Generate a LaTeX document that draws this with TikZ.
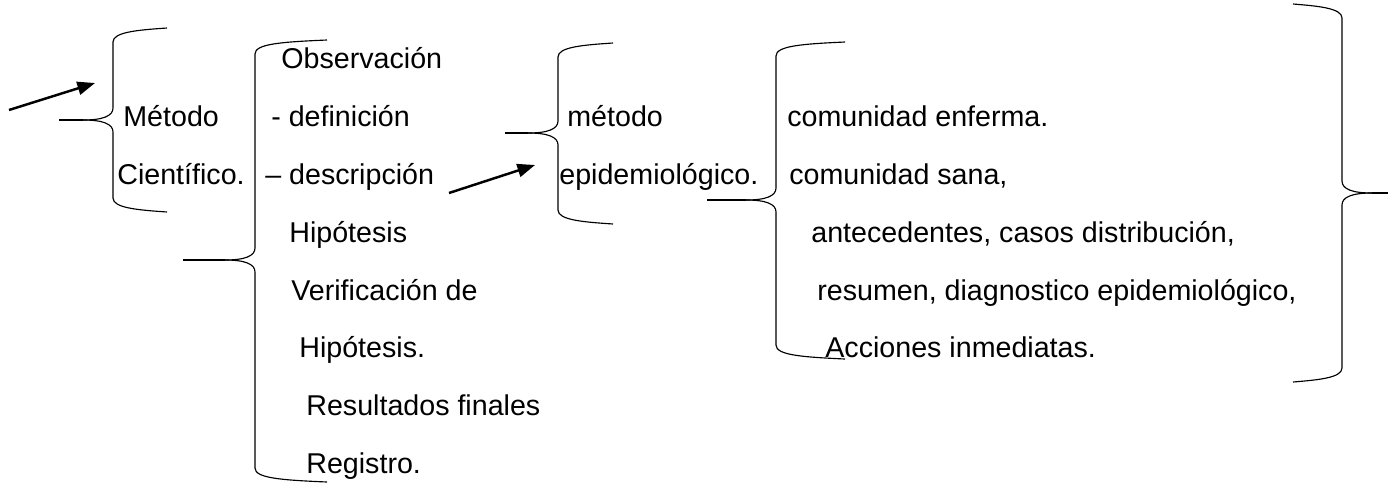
\documentclass[tikz,border=0pt]{standalone}
\usepackage{fontspec}
\setmainfont{Liberation Sans}
\usetikzlibrary{arrows.meta}

% left curly brace: #1 right end, #2 stem, #3 tail end, #4 top, #5 tip, #6 bottom
\newcommand{\leftcurly}[6]{%
  \draw[brace] (#1,#4) .. controls (#2+25,#4+2) and (#2,#4+4) .. (#2,#4+14)
    -- (#2,#5-12) .. controls (#2,#5-4) and (#2-10,#5) .. (#2-30,#5);
  \draw[brace] (#2-30,#5) .. controls (#2-10,#5) and (#2,#5+4) .. (#2,#5+12)
    -- (#2,#6-14) .. controls (#2,#6-4) and (#2+25,#6-2) .. (#1,#6);
  \draw[tail] (#3,#5) -- (#2-30,#5);
}

\begin{document}
\begin{tikzpicture}[x=0.02cm,y=-0.02cm,
  txt/.style={anchor=base west,inner sep=0pt,font=\fontsize{16.3pt}{19pt}\selectfont},
  brace/.style={line width=0.65pt},
  tail/.style={line width=1.1pt},
  arr/.style={line width=1.4pt,-{Triangle[length=10pt,width=7.5pt]}}]
\useasboundingbox (0,0) rectangle (1395,491);

% Braces
\leftcurly{167}{113}{59}{28}{120}{212}
\leftcurly{327}{255}{183}{40}{260}{482}
\leftcurly{613}{558}{505}{43}{133}{224}
\leftcurly{845}{776}{707}{42}{200}{359}
% closing brace on the right
\draw[brace] (1293,4) .. controls (1317,6) and (1342,8) .. (1342,18)
  -- (1342,181) .. controls (1342,189) and (1352,193) .. (1372,193);
\draw[brace] (1372,193) .. controls (1352,193) and (1342,197) .. (1342,205)
  -- (1342,368) .. controls (1342,378) and (1317,380) .. (1293,382);
\draw[tail] (1372,193) -- (1388,193);

% Metodo cientifico
\node[txt] (met) at (123,126) {Método};
\node[txt] (cien) at (117,184) {Científico.};

% Steps
\node[txt] (obs) at (281,68) {Observación};
\node[txt] (def) at (271,126) {- definición};
\node[txt] (desc) at (265,184) {– descripción};
\node[txt] (hip) at (289,242) {Hipótesis};
\node[txt] (ver) at (291,300) {Verificación de};
\node[txt] (hipb) at (299,357) {Hipótesis.};
\node[txt] (res) at (306,415) {Resultados finales};
\node[txt] (reg) at (306,473) {Registro.};

% Metodo epidemiologico
\node[txt] (mepi) at (567,126) {método};
\node[txt] (epi) at (559,184) {epidemiológico.};

\node[txt] (enf) at (787,126) {comunidad enferma.};
\node[txt] (sana) at (789,184) {comunidad sana,};
\node[txt] (ante) at (811,242) {antecedentes, casos distribución,};
\node[txt] (resu) at (817,300) {resumen, diagnostico epidemiológico,};
\node[txt] (acc) at (825,357) {Acciones inmediatas.};

% Arrows
\coordinate (a1) at (9,110);
\coordinate (b1) at (95,83);
\coordinate (a2) at (449,193);
\coordinate (b2) at (535,165);
\draw[arr] (a1) -- (b1);
\draw[arr] (a2) -- (b2);
\end{tikzpicture}
\end{document}
